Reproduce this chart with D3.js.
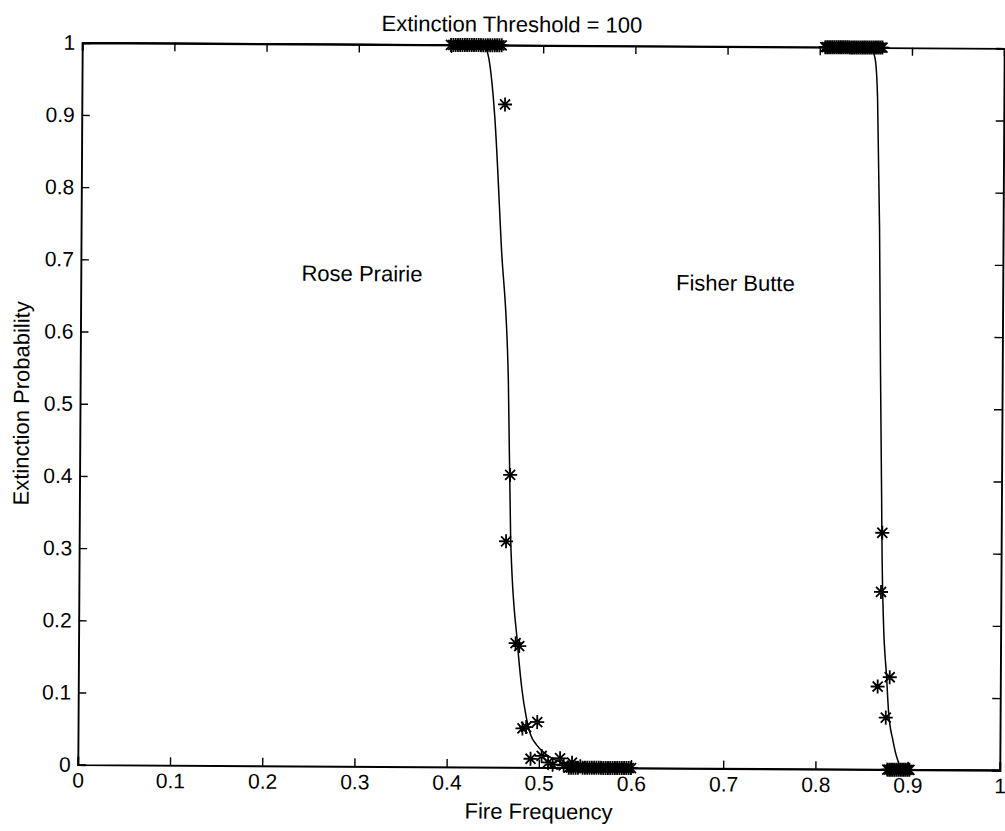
<!DOCTYPE html>
<html>
<head>
<meta charset="utf-8">
<script src="https://cdn.jsdelivr.net/npm/d3@7"></script>
<style>
  html, body { margin: 0; padding: 0; background: #fff; }
  svg { display: block; }
  text { font-family: "Liberation Sans", Arial, Helvetica, sans-serif; fill: #000; }
</style>
</head>
<body>
<svg id="chart" width="1005" height="831"></svg>
<script>
// Axis ticks
const xTicks = [0, 0.1, 0.2, 0.3, 0.4, 0.5, 0.6, 0.7, 0.8, 0.9, 1];
const xTickLabels = ["0", "0.1", "0.2", "0.3", "0.4", "0.5", "0.6", "0.7", "0.8", "0.9", "1"];
const yTicks = [0, 0.1, 0.2, 0.3, 0.4, 0.5, 0.6, 0.7, 0.8, 0.9, 1];
const yTickLabels = ["0", "0.1", "0.2", "0.3", "0.4", "0.5", "0.6", "0.7", "0.8", "0.9", "1"];

// Rose Prairie: simulated extinction probabilities
const roseX = [0.400, 0.4025, 0.405, 0.4075, 0.410, 0.4125, 0.415, 0.4175, 0.420, 0.4225,
  0.425, 0.4275, 0.430, 0.4325, 0.435, 0.4375, 0.440, 0.4425, 0.445, 0.4475, 0.450, 0.4525, 0.455,
  0.459, 0.463, 0.467, 0.474, 0.478, 0.482, 0.486, 0.491, 0.498, 0.503, 0.510, 0.515, 0.523, 0.527, 0.536, 0.545,
  0.5325, 0.535, 0.5375, 0.540, 0.5425, 0.5475, 0.550, 0.5525, 0.555, 0.5575, 0.560, 0.5625, 0.565,
  0.5675, 0.570, 0.5725, 0.575, 0.5775, 0.580, 0.5825, 0.585, 0.5875, 0.590, 0.5925, 0.595, 0.5975, 0.600];
const roseY = [1, 1, 1, 1, 1, 1, 1, 1, 1, 1,
  1, 1, 1, 1, 1, 1, 1, 1, 1, 1, 1, 1, 1,
  0.918, 0.313, 0.405, 0.172, 0.168, 0.054, 0.056, 0.012, 0.063, 0.016, 0.007, 0.004, 0.013, 0.003, 0.007, 0.002,
  0, 0, 0, 0, 0, 0, 0, 0, 0, 0, 0, 0, 0,
  0, 0, 0, 0, 0, 0, 0, 0, 0, 0, 0, 0, 0, 0];

// Rose Prairie: fitted curve
const roseFitX = [0, 0.435, 0.440, 0.448, 0.456, 0.4644, 0.468, 0.476, 0.481, 0.486, 0.491, 0.497, 0.507, 0.525, 0.545, 0.570, 1];
const roseFitY = [1, 1, 0.988, 0.90, 0.72, 0.537, 0.315, 0.172, 0.11, 0.07, 0.045, 0.032, 0.019, 0.007, 0.002, 0, 0];

// Fisher Butte: simulated extinction probabilities
const fisherX = [0.806, 0.808, 0.810, 0.812, 0.814, 0.816, 0.818, 0.820, 0.822, 0.824, 0.826,
  0.828, 0.830, 0.832, 0.834, 0.836, 0.838, 0.840, 0.842, 0.844, 0.846, 0.848, 0.850, 0.852,
  0.854, 0.856, 0.858, 0.860, 0.862, 0.864, 0.866, 0.868,
  0.871, 0.870, 0.880, 0.867, 0.876,
  0.878, 0.880, 0.882, 0.884, 0.886, 0.888, 0.890, 0.892, 0.894, 0.896, 0.898, 0.900, 0.902];
const fisherY = [1, 1, 1, 1, 1, 1, 1, 1, 1, 1, 1,
  1, 1, 1, 1, 1, 1, 1, 1, 1, 1, 1, 1, 1,
  1, 1, 1, 1, 1, 1, 1, 1,
  0.328, 0.246, 0.128, 0.115, 0.072,
  0, 0, 0, 0, 0, 0, 0, 0, 0, 0, 0, 0, 0];

// Fisher Butte: fitted curve
const fisherFitX = [0, 0.855, 0.860, 0.863, 0.866, 0.868, 0.870, 0.871, 0.873, 0.8765, 0.879, 0.884, 0.889, 0.893, 0.897, 1];
const fisherFitY = [1, 1, 0.985, 0.93, 0.75, 0.55, 0.38, 0.29, 0.20, 0.13, 0.08, 0.04, 0.014, 0.003, 0, 0];

const titleText = "Extinction Threshold = 100";
const xLabelText = "Fire Frequency";
const yLabelText = "Extinction Probability";
const siteLabels = [
  { name: "Rose Prairie", x: 0.305, y: 0.672 },
  { name: "Fisher Butte", x: 0.71, y: 0.662 }
];

// Layout
const plotLeft = 80, plotRight = 1002, plotTop = 45.5, plotBottom = 767.5;
const tilt = 0.35;

const svg = d3.select("#chart");
const fig = svg.append("g")
  .attr("transform", `rotate(${tilt},${(plotLeft + plotRight) / 2},${(plotTop + plotBottom) / 2})`);

const x = d3.scaleLinear().domain([0, 1]).range([plotLeft, plotRight]);
const y = d3.scaleLinear().domain([0, 1]).range([plotBottom, plotTop]);

const tickFont = 21;
const labelFont = 22;

// Axes with inward ticks on all four sides
const axB = fig.append("g").attr("transform", `translate(0,${plotBottom})`)
  .call(d3.axisBottom(x).tickValues(xTicks).tickSize(-8).tickPadding(8)
    .tickFormat((d, i) => xTickLabels[i]));
const axT = fig.append("g").attr("transform", `translate(0,${plotTop})`)
  .call(d3.axisTop(x).tickValues(xTicks).tickSize(-8).tickFormat(""));
const axL = fig.append("g").attr("transform", `translate(${plotLeft},0)`)
  .call(d3.axisLeft(y).tickValues(yTicks).tickSize(-8).tickPadding(7)
    .tickFormat((d, i) => yTickLabels[i]));
const axR = fig.append("g").attr("transform", `translate(${plotRight},0)`)
  .call(d3.axisRight(y).tickValues(yTicks).tickSize(-8).tickFormat(""));

[axB, axT, axL, axR].forEach(a => {
  a.select(".domain").attr("stroke", "#000").attr("stroke-width", 1.9);
  a.selectAll(".tick line").attr("stroke", "#000").attr("stroke-width", 1.4);
  a.selectAll(".tick text").attr("font-size", tickFont)
    .attr("font-family", "'Liberation Sans', Arial, Helvetica, sans-serif").attr("fill", "#000");
});

// Fitted curves
const line = d3.line().x(d => x(d[0])).y(d => y(d[1])).curve(d3.curveMonotoneX);
[[roseFitX, roseFitY], [fisherFitX, fisherFitY]].forEach(([xs, ys]) => {
  fig.append("path")
    .datum(xs.map((v, i) => [v, ys[i]]))
    .attr("d", line)
    .attr("fill", "none")
    .attr("stroke", "#000")
    .attr("stroke-width", 1.5);
});

// Asterisk markers
const star = "M-7,0H7M0,-7V7M-5,-5L5,5M-5,5L5,-5";
[[roseX, roseY], [fisherX, fisherY]].forEach(([xs, ys]) => {
  fig.append("g").selectAll("path")
    .data(xs.map((v, i) => [v, ys[i]]))
    .join("path")
    .attr("transform", d => `translate(${x(d[0])},${y(d[1])})`)
    .attr("d", star)
    .attr("fill", "none")
    .attr("stroke", "#000")
    .attr("stroke-width", 1.8);
});

// Titles and labels
fig.append("text").attr("x", x(0.466)).attr("y", 32)
  .attr("text-anchor", "middle").attr("font-size", labelFont).text(titleText);
fig.append("text").attr("x", x(0.5)).attr("y", 819)
  .attr("text-anchor", "middle").attr("font-size", labelFont).text(xLabelText);
fig.append("text")
  .attr("transform", `translate(29,${y(0.5)}) rotate(-90)`)
  .attr("text-anchor", "middle").attr("font-size", labelFont).text(yLabelText);

fig.append("g").selectAll("text")
  .data(siteLabels)
  .join("text")
  .attr("x", d => x(d.x))
  .attr("y", d => y(d.y))
  .attr("text-anchor", "middle")
  .attr("font-size", labelFont)
  .text(d => d.name);
</script>
</body>
</html>
